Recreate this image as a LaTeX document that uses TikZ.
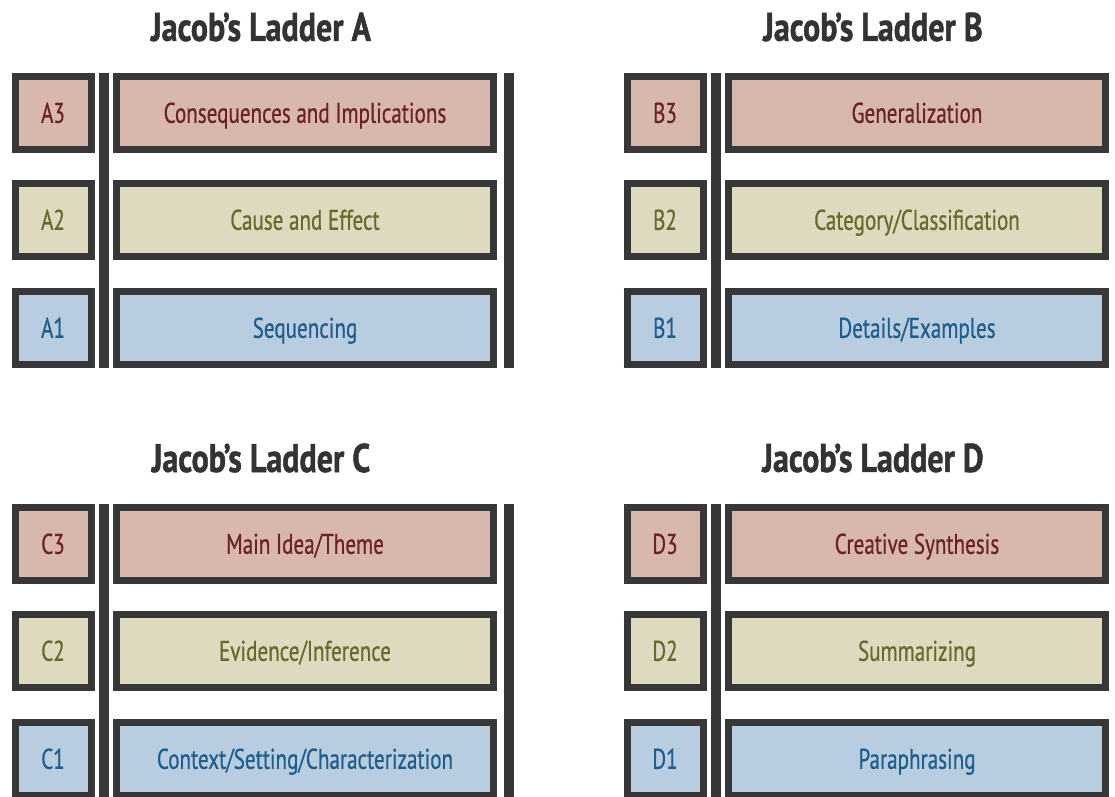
\documentclass[tikz,border=0pt]{standalone}
\usepackage{fontspec}
\usepackage{tikz}
\usetikzlibrary{positioning,calc}

\newfontfamily\labfont[FakeStretch=0.74, FakeBold=0.6]{PT Sans}
\newfontfamily\titfont[FakeStretch=0.8, FakeBold=1.2]{PT Sans}

\definecolor{ladgray}{HTML}{383737}
\definecolor{titgray}{HTML}{333333}
\definecolor{fill3}{HTML}{D8B7AD}
\definecolor{ink3}{HTML}{6B2222}
\definecolor{fill2}{HTML}{DEDAC0}
\definecolor{ink2}{HTML}{6B682B}
\definecolor{fill1}{HTML}{B9CDE1}
\definecolor{ink1}{HTML}{1E5E8A}

\begin{document}
\begin{tikzpicture}[x=1pt,y=-1pt,
    box/.style={draw=ladgray, line width=7pt, inner sep=0pt, minimum height=73pt,
      text height=19.6pt, text depth=0pt,
      font=\labfont\fontsize{28.5}{30}\selectfont},
    tag/.style={box, minimum width=76pt},
    rung/.style={box, minimum width=377pt},
    bar/.style={draw=ladgray, line width=10pt},
    title/.style={font=\titfont\bfseries\fontsize{40}{42}\selectfont, text=titgray}]
\useasboundingbox (0,0) rectangle (1115,796);

% ladder A
\node[title] (titleA) at (261,27) {Jacob’s Ladder A};
\foreach \n/\t/\y in {3/Consequences and Implications/113, 2/Cause and Effect/220, 1/Sequencing/328} {
    \node[tag, fill=fill\n, text=ink\n] (A\n) at (53,\y) {A\n};
    \node[rung, fill=fill\n, text=ink\n] (A\n t) at (305,\y) {\t};
}
\draw[bar] ($(A3.north east)!.5!(A3t.north west)$) -- ($(A1.south east)!.5!(A1t.south west)$);
\draw[bar] ([xshift=12pt]A3t.north east) -- ([xshift=12pt]A1t.south east);

% ladder B
\node[title] (titleB) at (873,27) {Jacob’s Ladder B};
\foreach \n/\t/\y in {3/Generalization/113, 2/{Category/Classification}/220, 1/{Details/Examples}/328} {
    \node[tag, fill=fill\n, text=ink\n] (B\n) at (665,\y) {B\n};
    \node[rung, fill=fill\n, text=ink\n] (B\n t) at (917,\y) {\t};
}
\draw[bar] ($(B3.north east)!.5!(B3t.north west)$) -- ($(B1.south east)!.5!(B1t.south west)$);
\draw[bar] ([xshift=12pt]B3t.north east) -- ([xshift=12pt]B1t.south east);

% ladder C
\node[title] (titleC) at (261,458) {Jacob’s Ladder C};
\foreach \n/\t/\y in {3/{Main Idea/Theme}/544, 2/{Evidence/Inference}/651, 1/{Context/Setting/Characterization}/759} {
    \node[tag, fill=fill\n, text=ink\n] (C\n) at (53,\y) {C\n};
    \node[rung, fill=fill\n, text=ink\n] (C\n t) at (305,\y) {\t};
}
\draw[bar] ($(C3.north east)!.5!(C3t.north west)$) -- ($(C1.south east)!.5!(C1t.south west)$);
\draw[bar] ([xshift=12pt]C3t.north east) -- ([xshift=12pt]C1t.south east);

% ladder D
\node[title] (titleD) at (873,458) {Jacob’s Ladder D};
\foreach \n/\t/\y in {3/Creative Synthesis/544, 2/Summarizing/651, 1/Paraphrasing/759} {
    \node[tag, fill=fill\n, text=ink\n] (D\n) at (665,\y) {D\n};
    \node[rung, fill=fill\n, text=ink\n] (D\n t) at (917,\y) {\t};
}
\draw[bar] ($(D3.north east)!.5!(D3t.north west)$) -- ($(D1.south east)!.5!(D1t.south west)$);
\draw[bar] ([xshift=12pt]D3t.north east) -- ([xshift=12pt]D1t.south east);
\end{tikzpicture}
\end{document}
